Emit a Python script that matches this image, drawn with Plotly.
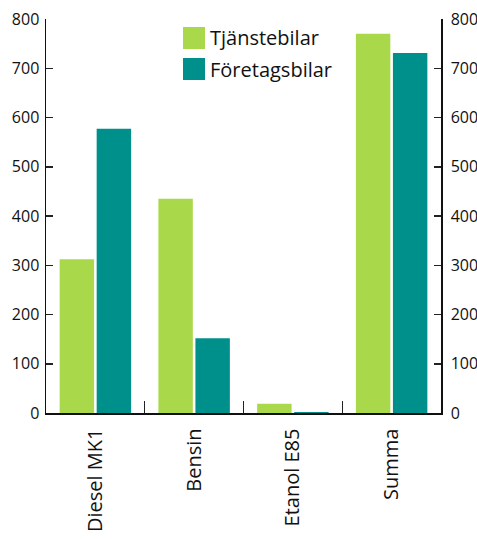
import plotly.graph_objects as go

categories = ["Diesel MK1", "Bensin", "Etanol E85", "Summa"]
tjanstebilar = [312, 435, 19, 770]
foretagsbilar = [577, 152, 2, 731]
series_names = ["Tjänstebilar", "Företagsbilar"]
y_ticks = [0, 100, 200, 300, 400, 500, 600, 700, 800]

GREEN = "#a9d94b"
TEAL = "#00908b"
FONT = "Open Sans, Noto Sans, sans-serif"

W, H = 477, 539
L, R, T, B = 46, 36, 19, 126
PW, PH = W - L - R, H - T - B

fig = go.Figure()
fig.add_trace(go.Bar(x=categories, y=tjanstebilar, name=series_names[0],
                     marker=dict(color=GREEN, line=dict(width=0)), showlegend=False))
fig.add_trace(go.Bar(x=categories, y=foretagsbilar, name=series_names[1],
                     marker=dict(color=TEAL, line=dict(width=0)), showlegend=False))
# invisible trace to activate the right axis
fig.add_trace(go.Scatter(x=categories, y=tjanstebilar, yaxis="y2", mode="markers",
                         marker=dict(opacity=0), hoverinfo="skip", showlegend=False))

axis_common = dict(range=[0, 800], tickvals=y_ticks, ticks="inside", ticklen=7,
                   tickwidth=1.5, tickcolor="#222", showgrid=False, zeroline=False,
                   showline=True, linecolor="#111", linewidth=1.5, automargin=False,
                   ticklabeloverflow="allow",
                   tickfont=dict(family=FONT, size=16, color="#111"))

fig.update_layout(
    template="none",
    width=W, height=H,
    margin=dict(l=L, r=R, t=T, b=B),
    paper_bgcolor="white", plot_bgcolor="white",
    barmode="group", bargap=0.25, bargroupgap=0.07,
    xaxis=dict(type="category", tickson="boundaries", ticks="inside", ticklen=12,
               tickwidth=1.2, tickcolor="#222", showline=True, linecolor="#111",
               linewidth=1.5, showgrid=False, tickangle=-90, automargin=False,
               ticklabelstandoff=6,
               tickfont=dict(family=FONT, size=20, color="#111"),
               range=[-0.5, 3.5]),
    yaxis=dict(side="left", ticklabelstandoff=2, **axis_common),
    yaxis2=dict(side="right", overlaying="y", ticklabelstandoff=5, **axis_common),
)

# legend drawn as swatches + labels in paper coordinates
legend_items = [(series_names[0], GREEN), (series_names[1], TEAL)]
for i, (label, color) in enumerate(legend_items):
    y_top = 27 + i * 31
    fig.add_shape(type="rect", xref="paper", yref="paper",
                  x0=(183 - 46) / PW, x1=(205 - 46) / PW,
                  y0=1 - (y_top + 22 - 19) / PH, y1=1 - (y_top - 19) / PH,
                  fillcolor=color, line=dict(width=0))
    fig.add_annotation(text=label, xref="paper", yref="paper",
                       x=(208 - 46) / PW, y=1 - (y_top + 11 - 19) / PH,
                       xanchor="left", yanchor="middle", showarrow=False,
                       font=dict(family=FONT, size=20, color="#111"))

fig.write_html(
    "out.html",
    config={"displayModeBar": False, "staticPlot": True},
    post_script="document.body.style.margin='0';document.documentElement.style.overflow='hidden';",
)
